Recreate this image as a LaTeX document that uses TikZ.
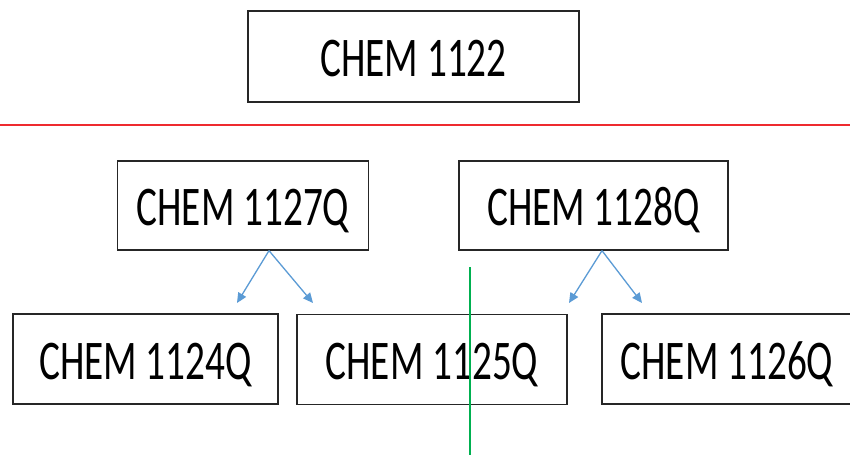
\documentclass[tikz,border=0pt]{standalone}
\usepackage{fontspec}
\setmainfont{Carlito}
\usetikzlibrary{arrows.meta}
\definecolor{arrowblue}{HTML}{5B9BD5}
\definecolor{redline}{HTML}{EE2A2F}
\definecolor{greenline}{HTML}{00B050}
\newcommand{\sqz}[1]{\scalebox{0.7}[1]{#1}}
\begin{document}
\begin{tikzpicture}[x=1pt,y=-1pt,
  box/.style={draw=black!85,line width=1.3pt,fill=white,inner sep=0pt,
    text height=40pt,text depth=0pt,font=\fontsize{56}{60}\selectfont},
  arr/.style={draw=arrowblue,line width=1.3pt,-{Triangle[length=10pt,width=9pt]}},
  divider/.style={line width=1.6pt}]
\clip (0,0) rectangle (850,457);
\fill[white] (0,0) rectangle (850,457);
% boxes
\node[box,minimum width=331pt,minimum height=91pt] (c1122) at (413.5,56.5) {\sqz{CHEM 1122}};
\node[box,minimum width=251pt,minimum height=89pt] (c1127) at (243,205.5) {\sqz{CHEM 1127Q}};
\node[box,minimum width=269pt,minimum height=89pt] (c1128) at (593.5,205.5) {\sqz{CHEM 1128Q}};
\node[box,minimum width=265pt,minimum height=90pt] (c1124) at (145.5,359) {\sqz{CHEM 1124Q}};
\node[box,minimum width=270pt,minimum height=90pt] (c1125) at (432,359.5) {\sqz{CHEM 1125Q}};
\node[box,minimum width=250pt,minimum height=90pt] (c1126) at (727,359) {\sqz{CHEM 1126Q}};
% red divider
\coordinate (rl) at (0,125);
\coordinate (rr) at (850,125);
\draw[divider,draw=redline] (rl) -- (rr);
% arrows
\coordinate (s1) at (c1127.south -| 269,0);
\coordinate (t1a) at (237,303);
\coordinate (t1b) at (313,303);
\coordinate (s2) at (c1128.south -| 602,0);
\coordinate (t2a) at (569,303);
\coordinate (t2b) at (642,303);
\draw[arr] (s1) -- (t1a);
\draw[arr] (s1) -- (t1b);
\draw[arr] (s2) -- (t2a);
\draw[arr] (s2) -- (t2b);
% green line
\coordinate (g1) at (470,267);
\coordinate (g2) at (470,455);
\draw[line width=1.2pt,draw=greenline] (g1) -- (g2);
\end{tikzpicture}
\end{document}
